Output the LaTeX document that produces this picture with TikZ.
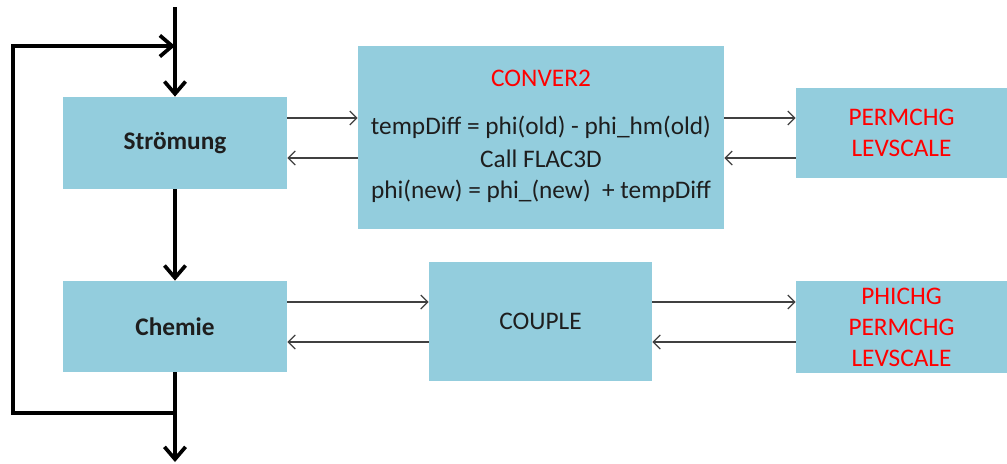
\documentclass[tikz,border=0pt]{standalone}
\usepackage{fontspec}
\setmainfont{Carlito}
\usetikzlibrary{arrows.meta, positioning}
\definecolor{boxblue}{HTML}{93CDDD}
\definecolor{modred}{HTML}{FF0000}
\definecolor{inkgray}{HTML}{1E1E1E}

\begin{document}
\begin{tikzpicture}[x=0.02cm, y=-0.02cm]
\tikzstyle{module} = [rectangle, fill=boxblue, text centered, align=center, inner sep=0pt, text=inkgray, font=\fontsize{14.4}{17.6}\selectfont]
\tikzstyle{flow} = [line width=2.1pt, -{Straight Barb[length=7pt, width=12pt, line width=2.1pt]}]
\tikzstyle{link} = [draw=black!75, line width=0.7pt, -{Straight Barb[length=4pt, width=8pt, line width=0.7pt]}]

\useasboundingbox (0,0) rectangle (1007,463);

% main loop
\node (str) [module, minimum width=4.48cm, minimum height=1.84cm] at (175,143) {\textbf{Strömung}};
\node (chem) [module, minimum width=4.48cm, minimum height=1.82cm] at (175,326.5) {\textbf{Chemie}};

% coupling modules
\node (conv) [module, minimum width=7.32cm, minimum height=3.66cm] at (541,137.5) {{\color{modred}CONVER2}\\[9.5pt]
  tempDiff = phi(old) - phi\_hm(old)\\[1pt]
  Call FLAC3D\\
  phi(new) = phi\_(new) \ + tempDiff\\[-14pt]};
\node (couple) [module, minimum width=4.46cm, minimum height=2.38cm] at (540.5,321.5) {COUPLE};
\node (perm) [module, minimum width=4.22cm, minimum height=1.80cm, text=modred] at (901.5,133) {PERMCHG\\LEVSCALE};
\node (phi) [module, minimum width=4.22cm, minimum height=1.84cm, text=modred] at (901.5,327) {PHICHG\\PERMCHG\\LEVSCALE};

\coordinate (in) at (175,7);
\coordinate (join) at (175,46);
\coordinate (split) at (175,413);
\coordinate (out) at (175,462);

\draw[flow] (in) -- (str.north);
\draw[flow] (str) -- (chem);
\draw[flow] (chem) -- (out);
\draw[flow] (split) -- ++(-162,0) |- (join);

\draw[link] (str.east |- 0,118) -- (conv.west |- 0,118);
\draw[link] (conv.west |- 0,158) -- (str.east |- 0,158);
\draw[link] (conv.east |- 0,118) -- (perm.west |- 0,118);
\draw[link] (perm.west |- 0,158) -- (conv.east |- 0,158);

\draw[link] (chem.east |- 0,302) -- (couple.west |- 0,302);
\draw[link] (couple.west |- 0,342) -- (chem.east |- 0,342);
\draw[link] (couple.east |- 0,302) -- (phi.west |- 0,302);
\draw[link] (phi.west |- 0,342) -- (couple.east |- 0,342);

\end{tikzpicture}
\end{document}
